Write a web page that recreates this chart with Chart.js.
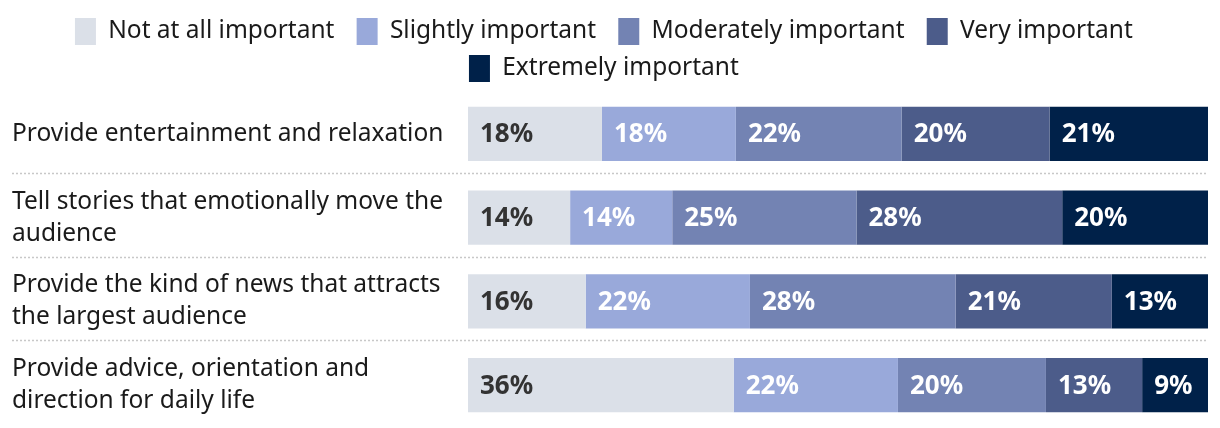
<!DOCTYPE html>
<html lang="en">
<head>
    <meta charset="UTF-8">
    <title>Importance of journalism roles</title>
    <script src="https://cdn.jsdelivr.net/npm/chart.js"></script>
    <style>
        body { margin: 0; background: #fff; }
        .wrap { width: 1220px; height: 428px; position: relative; }
    </style>
</head>
<body>
    <div class="wrap">
        <canvas id="roleChart"></canvas>
    </div>

<script>
// categories (pre-wrapped as in the original)
const roles = [
    ["Provide entertainment and relaxation"],
    ["Tell stories that emotionally move the", "audience"],
    ["Provide the kind of news that attracts", "the largest audience"],
    ["Provide advice, orientation and", "direction for daily life"]
];

const levels = ["Not at all important", "Slightly important", "Moderately important", "Very important", "Extremely important"];

// shares per role
const notAtAll   = [18.1, 13.8, 15.9, 35.9];
const slightly   = [18.1, 13.8, 22.2, 22.2];
const moderately = [22.4, 24.9, 27.8, 20.0];
const very       = [20.0, 27.8, 21.1, 13.0];
const extremely  = [21.4, 19.7, 13.0,  8.9];

const colours = ["#dbe0e8", "#99a9da", "#7383b3", "#4c5c8a", "#002149"];
const labelColours = ["#333333", "#ffffff", "#ffffff", "#ffffff", "#ffffff"];

const FONT = "'Noto Sans', sans-serif";

// dotted separators between rows
const separators = {
    id: "separators",
    beforeDatasetsDraw(chart) {
        const y = chart.scales.y;
        const c = chart.ctx;
        c.save();
        c.strokeStyle = "#c8c8c8";
        c.lineWidth = 1.5;
        c.setLineDash([2, 2]);
        for (let i = 0; i < roles.length - 1; i++) {
            const yy = Math.round((y.getPixelForValue(i) + y.getPixelForValue(i + 1)) / 2) - 2.5;
            c.beginPath();
            c.moveTo(12, yy);
            c.lineTo(chart.chartArea.right, yy);
            c.stroke();
        }
        c.restore();
    }
};

// percentage labels at the left of each segment
const segLabels = {
    id: "segLabels",
    afterDatasetsDraw(chart) {
        const c = chart.ctx;
        c.save();
        c.font = "bold 26px " + FONT;
        c.textBaseline = "middle";
        c.textAlign = "left";
        chart.data.datasets.forEach((ds, di) => {
            chart.getDatasetMeta(di).data.forEach((bar, i) => {
                c.fillStyle = labelColours[di];
                c.fillText(Math.round(ds.data[i]) + "%", bar.base + 12, bar.y + 1);
            });
        });
        c.restore();
    }
};

const series = [notAtAll, slightly, moderately, very, extremely];

new Chart(document.getElementById("roleChart"), {
    type: "bar",
    data: {
        labels: roles,
        datasets: series.map((vals, i) => ({
            label: levels[i],
            data: vals,
            backgroundColor: colours[i],
            borderWidth: 0,
            barPercentage: 1,
            categoryPercentage: 0.645
        }))
    },
    options: {
        indexAxis: "y",
        responsive: true,
        maintainAspectRatio: false,
        animation: false,
        layout: { padding: { left: 12, right: 12, top: 8, bottom: 1 } },
        plugins: {
            legend: {
                position: "top",
                labels: {
                    color: "#1a1a1a",
                    font: { family: FONT, size: 24.5 },
                    boxWidth: 21,
                    boxHeight: 27,
                    padding: 10,
                    // en space after each name widens the gap between items
                    generateLabels(chart) {
                        return Chart.defaults.plugins.legend.labels.generateLabels(chart)
                            .map(item => Object.assign(item, { text: item.text + "\u2002", lineWidth: 0 }));
                    }
                }
            },
            tooltip: { enabled: false }
        },
        scales: {
            x: {
                stacked: true,
                min: 0,
                max: 100,
                display: false
            },
            y: {
                stacked: true,
                grid: { display: false },
                border: { display: false },
                afterFit(scale) {
                    scale.width = 456;
                    scale.paddingTop = 0;
                    scale.paddingBottom = 0;
                },
                ticks: {
                    crossAlign: "far",
                    color: "#1a1a1a",
                    font: { family: FONT, size: 24.5, lineHeight: 1.31 },
                    padding: 0
                }
            }
        }
    },
    plugins: [separators, segLabels]
});
</script>
</body>
</html>
